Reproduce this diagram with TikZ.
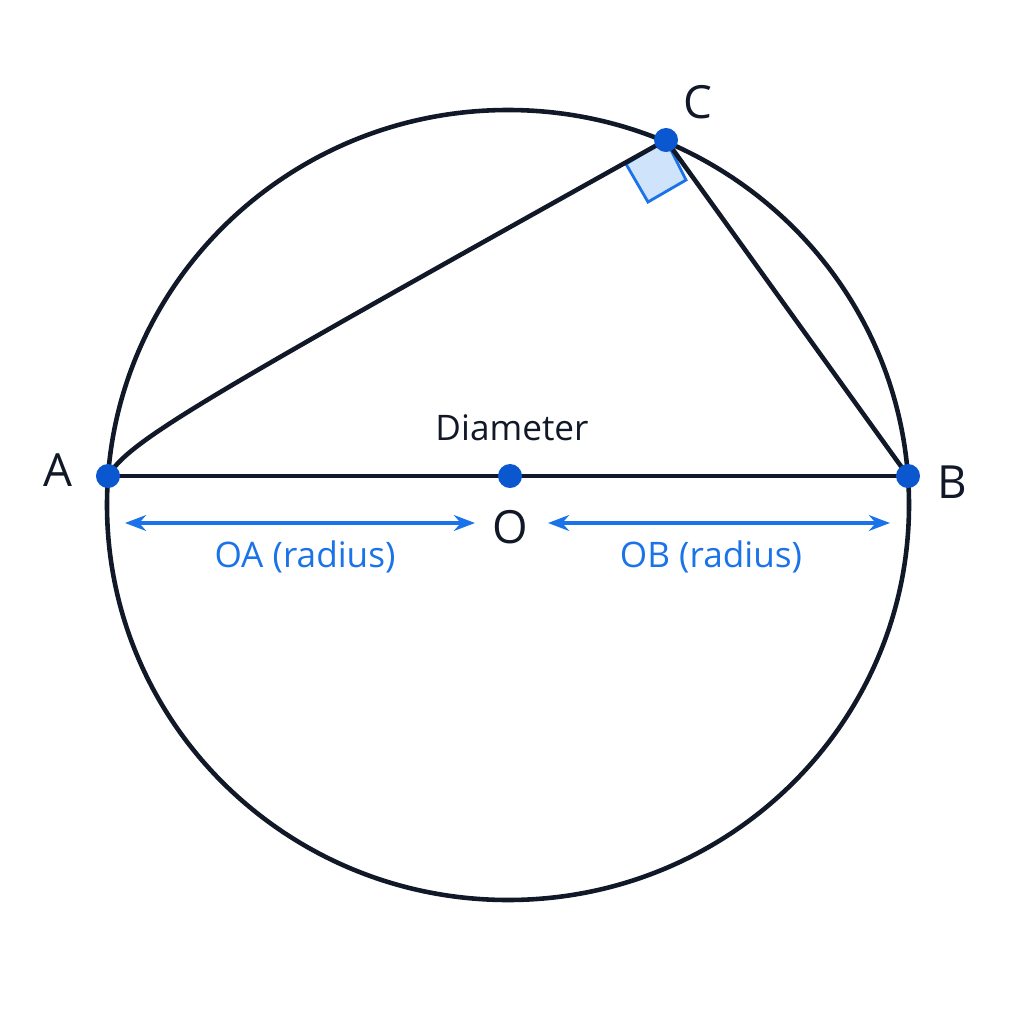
\documentclass[tikz,border=0pt]{standalone}
\usepackage{fontspec}
\setmainfont{Open Sans}
\usetikzlibrary{arrows.meta}
\definecolor{ink}{HTML}{111827}
\definecolor{pblue}{HTML}{0B57D0}
\definecolor{lblue}{HTML}{1A73E8}
\definecolor{sqfill}{HTML}{CFE3FB}
\begin{document}
\begin{tikzpicture}[x=0.01cm,y=-0.01cm,
  edge/.style={draw=ink,line width=1.3pt},
  dot/.style={circle,fill=pblue,inner sep=0pt,minimum size=0.24cm},
  pt/.style={font=\fontsize{13}{15}\selectfont,text=ink},
  dim/.style={draw=lblue,line width=0.9pt,{Stealth[length=6pt]}-{Stealth[length=6pt]}},
  dimlab/.style={font=\fontsize{10}{12}\selectfont,text=lblue}]
\useasboundingbox (0,0) rectangle (1024,1024);
\draw[edge] (508,505) ellipse [x radius=401, y radius=395];
\coordinate (A) at (108,476);
\coordinate (B) at (908,476);
\coordinate (C) at (666,140);
\coordinate (O) at (510,476);
\filldraw[fill=sqfill,draw=lblue,line width=0.8pt] (C) -- (626,164) -- (648,202) -- (686,180) -- cycle;
\draw[edge] (A) -- (B);
\draw[edge] (A) .. controls (130,440) and (200,400) .. (C);
\draw[edge] (C) -- (B);
\node[dot] (a) at (A) {};
\node[dot] (b) at (B) {};
\node[dot] (c) at (C) {};
\node[dot] (o) at (O) {};
\node[pt] (la) at (58,470) {A};
\node[pt] (lb) at (952,482) {B};
\node[pt] (lc) at (698,102) {C};
\node[pt] (lo) at (510,527) {O};
\node[font=\fontsize{10}{12}\selectfont,text=ink] (d) at (512,428) {Diameter};
\coordinate (a1) at (125,523); \coordinate (a2) at (475,523);
\coordinate (b1) at (548,523); \coordinate (b2) at (890,523);
\draw[dim] (a1) -- (a2);
\draw[dim] (b1) -- (b2);
\node[dimlab] (oa) at (305,557) {OA (radius)};
\node[dimlab] (ob) at (711,557) {OB (radius)};
\end{tikzpicture}
\end{document}
